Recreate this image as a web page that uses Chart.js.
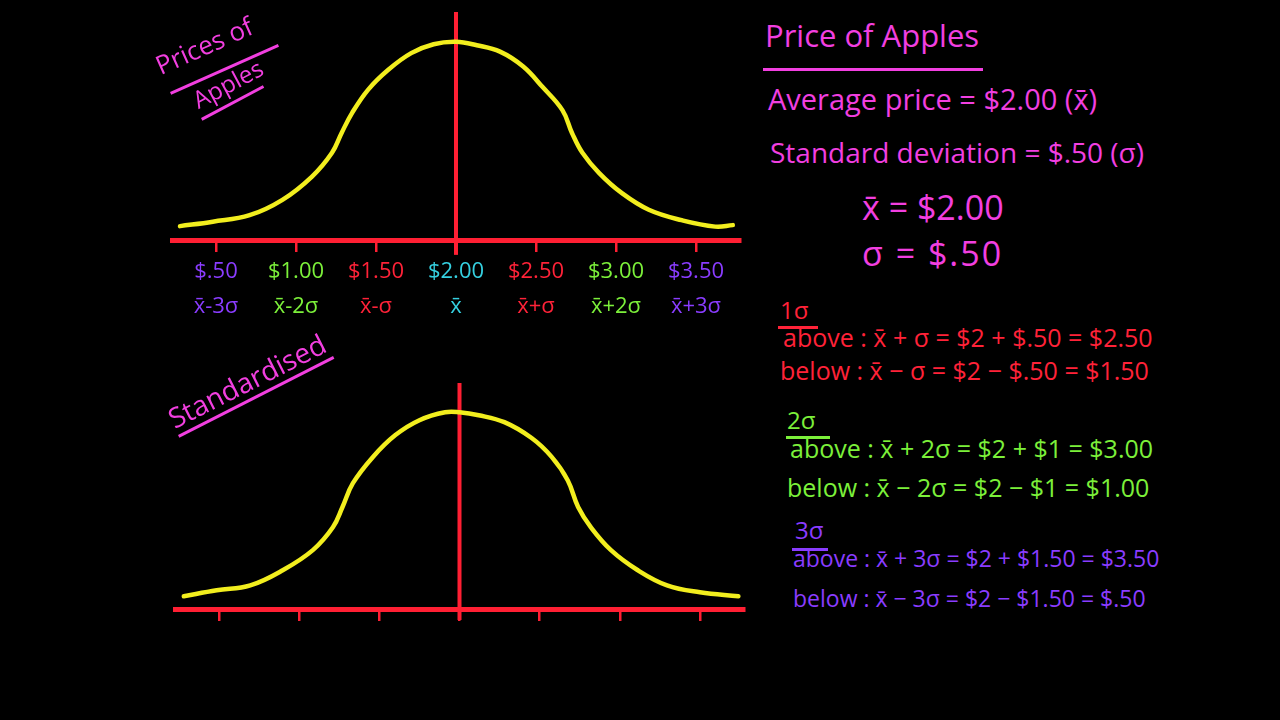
<!DOCTYPE html>
<html lang="en">
<head>
<meta charset="UTF-8">
<title>Price of Apples - Standard Deviation</title>
<script src="https://cdn.jsdelivr.net/npm/chart.js"></script>
<style>
  body { margin: 0; background: #000; width: 1280px; height: 720px; overflow: hidden; position: relative; font-family: "Open Sans", sans-serif; }
  .note { position: absolute; white-space: nowrap; line-height: 1; }
  .pink { color: #f23fe0; }
  .red { color: #ff2238; }
  .green { color: #7cf03a; }
  .purple { color: #8a3cff; }
  .rule { position: absolute; height: 0; border-top: 3px solid; transform-origin: 0 0; }
  #topWrap { position: absolute; left: 160px; top: 0; }
  #botWrap { position: absolute; left: 160px; top: 370px; }
</style>
</head>
<body>

<div id="topWrap"><canvas id="priceChart" width="600" height="340"></canvas></div>
<div id="botWrap"><canvas id="zChart" width="600" height="270"></canvas></div>

<!-- left side labels -->
<div class="note pink" style="left:162px; top:52px; font-size:26px; transform:rotate(-24deg); transform-origin:0 100%;">Prices of</div>
<div class="rule pink" style="left:170px; top:92px; width:118px; transform:rotate(-24deg);"></div>
<div class="note pink" style="left:200px; top:88px; font-size:24px; transform:rotate(-28deg); transform-origin:0 100%;">Apples</div>
<div class="rule pink" style="left:201px; top:118px; width:70px; transform:rotate(-28deg);"></div>
<div class="note pink" style="left:176px; top:404px; font-size:28px; transform:rotate(-27deg); transform-origin:0 100%;">Standardised</div>
<div class="rule pink" style="left:178px; top:435px; width:174px; transform:rotate(-27deg);"></div>

<!-- right side notes -->
<div class="note pink" style="left:765px; top:20px; font-size:31px;">Price of Apples</div>
<div class="rule pink" style="left:763px; top:68px; width:220px;"></div>
<div class="note pink" style="left:768px; top:84px; font-size:29px;">Average price = $2.00 (x̄)</div>
<div class="note pink" style="left:770px; top:138px; font-size:28px;">Standard deviation = $.50 (σ)</div>
<div class="note pink" style="left:862px; top:190px; font-size:34px;">x̄ = $2.00</div>
<div class="note pink" style="left:862px; top:236px; font-size:34px; letter-spacing:2px;">σ = $.50</div>

<div class="note red" style="left:780px; top:298px; font-size:24px;">1σ</div>
<div class="rule red" style="left:778px; top:326px; width:40px;"></div>
<div class="note red" style="left:783px; top:325px; font-size:25px;">above : x̄ + σ = $2 + $.50 = $2.50</div>
<div class="note red" style="left:780px; top:358px; font-size:25px;">below : x̄ − σ = $2 − $.50 = $1.50</div>

<div class="note green" style="left:787px; top:408px; font-size:24px;">2σ</div>
<div class="rule green" style="left:786px; top:436px; width:44px;"></div>
<div class="note green" style="left:790px; top:436px; font-size:25px;">above : x̄ + 2σ = $2 + $1 = $3.00</div>
<div class="note green" style="left:787px; top:475px; font-size:25px;">below : x̄ − 2σ = $2 − $1 = $1.00</div>

<div class="note purple" style="left:795px; top:518px; font-size:24px;">3σ</div>
<div class="rule purple" style="left:792px; top:548px; width:36px;"></div>
<div class="note purple" style="left:793px; top:547px; font-size:23px;">above : x̄ + 3σ = $2 + $1.50 = $3.50</div>
<div class="note purple" style="left:793px; top:587px; font-size:23px;">below : x̄ − 3σ = $2 − $1.50 = $.50</div>

<script>
// tick values and labels
const priceTicks = [0.5, 1.0, 1.5, 2.0, 2.5, 3.0, 3.5];
const priceLabels = ['$.50', '$1.00', '$1.50', '$2.00', '$2.50', '$3.00', '$3.50'];
const sigmaLabels = ['x̄-3σ', 'x̄-2σ', 'x̄-σ', 'x̄', 'x̄+σ', 'x̄+2σ', 'x̄+3σ'];
const zTicks = [-3, -2, -1, 0, 1, 2, 3];

// top curve (price in $, height of curve)
const applePrice = [0.275, 0.48, 0.71, 0.915, 1.10, 1.225, 1.285, 1.35, 1.45, 1.575, 1.72, 1.86, 2.00,
                    2.13, 2.275, 2.42, 2.54, 2.665, 2.725, 2.79, 2.895, 3.035, 3.205, 3.41, 3.62, 3.73];
const appleHeight = [0.028, 0.037, 0.050, 0.081, 0.128, 0.176, 0.216, 0.256, 0.303, 0.343, 0.377, 0.395, 0.400,
                     0.393, 0.380, 0.350, 0.309, 0.262, 0.216, 0.176, 0.135, 0.095, 0.061, 0.040, 0.027, 0.030];

// bottom (standardised) curve, z-scores
const zScores = [-3.44, -3.03, -2.61, -2.20, -1.83, -1.58, -1.46, -1.33, -1.08, -0.80, -0.50, -0.18, 0,
                 0.24, 0.56, 0.90, 1.15, 1.35, 1.48, 1.64, 1.89, 2.22, 2.59, 3.00, 3.48];
const zHeight = [0.026, 0.038, 0.048, 0.079, 0.119, 0.165, 0.206, 0.254, 0.307, 0.351, 0.381, 0.397, 0.397,
                 0.391, 0.377, 0.345, 0.307, 0.260, 0.206, 0.165, 0.119, 0.079, 0.048, 0.034, 0.026];

const tickColors = ['#8a3cff', '#7cf03a', '#ff2238', '#35d0e0', '#ff2238', '#7cf03a', '#8a3cff'];
const yellow = '#f2ee1e';
const red = '#ff1f33';

function bellChart(id, xs, ys, o) {
    return new Chart(document.getElementById(id), {
        type: 'line',
        data: {
            datasets: [{
                data: xs.map((x, i) => ({ x: x, y: ys[i] })),
                borderColor: yellow,
                borderWidth: 4.5,
                borderCapStyle: 'round',
                pointRadius: 0,
                tension: 0.4
            }, {
                // the mean line
                data: [{ x: o.mean, y: o.lineLow }, { x: o.mean, y: o.yMax }],
                borderColor: red,
                borderWidth: 4,
                pointRadius: 0
            }]
        },
        options: {
            responsive: false,
            animation: false,
            layout: { padding: o.padding },
            plugins: { legend: { display: false }, tooltip: { enabled: false } },
            scales: {
                x: {
                    type: 'linear',
                    min: o.xMin,
                    max: o.xMax,
                    position: { y: 0 },
                    afterBuildTicks: ax => { ax.ticks = o.ticks.map(v => ({ value: v })); },
                    grid: { drawOnChartArea: false, drawTicks: true, tickLength: 9, color: red, lineWidth: 2.5 },
                    border: { display: true, color: red, width: 5 },
                    ticks: {
                        display: o.showLabels,
                        autoSkip: false,
                        maxRotation: 0,
                        padding: 5,
                        color: c => tickColors[c.index],
                        font: { family: 'Open Sans', size: 22, lineHeight: 1.6 },
                        callback: (v, i) => [priceLabels[i], sigmaLabels[i]]
                    }
                },
                y: { display: false, min: o.yMin, max: o.yMax }
            }
        }
    });
}

bellChart('priceChart', applePrice, appleHeight, {
    mean: 2.0, lineLow: -0.03, xMin: 0.225, xMax: 3.775, yMin: -0.1614, yMax: 0.46,
    ticks: priceTicks, showLabels: true,
    padding: { left: 12, right: 20, top: 12, bottom: 20 }
});

bellChart('zChart', zScores, zHeight, {
    mean: 0, lineLow: -0.022, xMin: -3.55, xMax: 3.55, yMin: -0.042, yMax: 0.456,
    ticks: zTicks, showLabels: false,
    padding: { left: 15, right: 16, top: 13, bottom: 10 }
});
</script>
</body>
</html>
